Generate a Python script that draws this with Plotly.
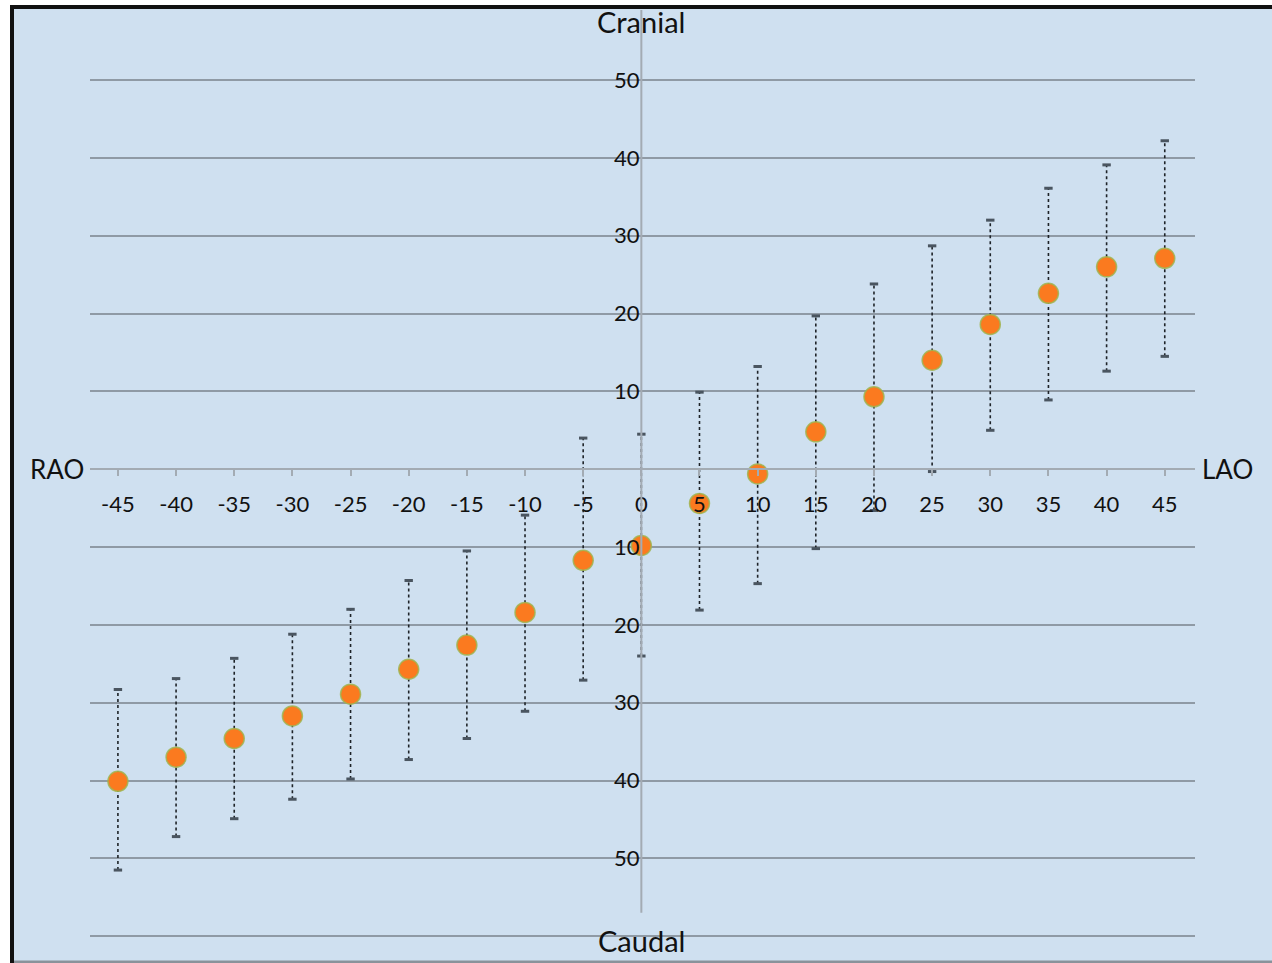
import plotly.graph_objects as go

# Data
angles = [-45, -40, -35, -30, -25, -20, -15, -10, -5, 0, 5, 10, 15, 20, 25, 30, 35, 40, 45]
means = [-40.1, -37.0, -34.6, -31.7, -28.9, -25.7, -22.6, -18.4, -11.7, -9.8, -4.4, -0.6, 4.8, 9.3, 14.0, 18.6, 22.6, 26.0, 27.1]
upper = [-28.3, -26.9, -24.3, -21.2, -18.0, -14.3, -10.5, -5.9, 4.0, 4.5, 9.9, 13.2, 19.7, 23.8, 28.7, 32.0, 36.1, 39.1, 42.2]
lower = [-51.5, -47.2, -44.9, -42.4, -39.8, -37.3, -34.6, -31.1, -27.1, -24.0, -18.1, -14.7, -10.2, -5.3, -0.3, 5.0, 8.9, 12.6, 14.5]

x_ticks = list(range(-45, 50, 5))
x_ticktext = [str(v) for v in x_ticks]
y_ticks = list(range(-60, 60, 10))
y_ticktext = ["" if v in (0, -60) else str(abs(v)) for v in y_ticks]

BG = "#cfe0f0"
FONT = "Lato"

# Pixel geometry of the plot area
W, H = 1272, 963
L, R = 90, 1195
T = 10
B = 943.6
x_range = [-47.4, 47.6]
y_range = [-61, 59]

def px_x(p):
    return (p - L) / (R - L)

def px_y(p):
    return (B - p) / (B - T)

# error bar line paths
ex, ey = [], []
for a, lo, hi in zip(angles, lower, upper):
    ex += [a, a, None]
    ey += [lo, hi, None]

fig = go.Figure()
fig.add_trace(go.Scatter(
    x=ex, y=ey, mode="lines",
    line=dict(color="#1e2328", width=1.6, dash="dot"),
    hoverinfo="skip", showlegend=False))
fig.add_trace(go.Scatter(
    x=angles + angles, y=upper + lower, mode="markers",
    marker=dict(symbol="line-ew", size=6, line=dict(color="#4a5560", width=3)),
    hoverinfo="skip", showlegend=False))
fig.add_trace(go.Scatter(
    x=angles, y=means, mode="markers",
    marker=dict(size=20, color="#fb7a1f", line=dict(color="rgba(160,180,80,0.85)", width=1.5)),
    showlegend=False))

zero_y = px_y(469)
zero_x = px_x(641.5)

fig.update_layout(
    width=W, height=H,
    margin=dict(l=L, r=W - R, t=T, b=H - B),
    paper_bgcolor=BG, plot_bgcolor=BG,
    font=dict(family=FONT, color="#111111"),
    xaxis=dict(range=x_range, tickvals=x_ticks, ticktext=x_ticktext, showgrid=False, zeroline=False,
               showline=True, linecolor="#a3abb3", linewidth=2,
               ticks="outside", ticklen=6, tickwidth=1.5, tickcolor="#a3abb3",
               anchor="free", position=zero_y, tickfont=dict(size=22, family=FONT, color="#111111"),
               ticklabelstandoff=9),
    yaxis=dict(range=y_range, tickvals=y_ticks, ticktext=y_ticktext, showgrid=True,
               gridcolor="#8f9aa5", gridwidth=1.5, zeroline=False, showline=False,
               ticks="", anchor="free", position=zero_x,
               tickfont=dict(size=22, family=FONT, color="#111111"), ticklabelstandoff=2),
    shapes=[
        dict(type="line", xref="x", yref="y", x0=0, x1=0, y0=-57, y1=59,
             line=dict(color="#a3abb3", width=2), layer="above"),
        # white outer strips and dark frame
        dict(type="rect", xref="paper", yref="paper", x0=px_x(0), x1=px_x(10), y0=px_y(H), y1=px_y(0),
             fillcolor="white", line=dict(width=0)),
        dict(type="rect", xref="paper", yref="paper", x0=px_x(0), x1=px_x(W), y0=px_y(5), y1=px_y(0),
             fillcolor="white", line=dict(width=0)),
        dict(type="rect", xref="paper", yref="paper", x0=px_x(10), x1=px_x(14), y0=px_y(H), y1=px_y(5),
             fillcolor="#111111", line=dict(width=0)),
        dict(type="rect", xref="paper", yref="paper", x0=px_x(10), x1=px_x(W), y0=px_y(9), y1=px_y(5),
             fillcolor="#111111", line=dict(width=0)),
        dict(type="rect", xref="paper", yref="paper", x0=px_x(14), x1=px_x(W), y0=px_y(H), y1=px_y(960),
             fillcolor="#8a929a", line=dict(width=0)),
    ],
    annotations=[
        dict(text="RAO", xref="paper", yref="y", x=px_x(57), y=0, showarrow=False,
             xanchor="center", yanchor="middle",
             font=dict(size=26, family=FONT, color="#111")),
        dict(text="LAO", xref="paper", yref="y", x=px_x(1228), y=0, showarrow=False,
             xanchor="center", yanchor="middle",
             font=dict(size=26, family=FONT, color="#111")),
        dict(text="Cranial", xref="x", yref="paper", x=0, y=px_y(21), showarrow=False,
             xanchor="center", yanchor="middle",
             font=dict(size=29, family=FONT, color="#111")),
        dict(text="Caudal", xref="x", yref="paper", x=0, y=px_y(940), showarrow=False,
             xanchor="center", yanchor="middle",
             font=dict(size=29, family=FONT, color="#111")),
    ],
)

fig.write_html("out.html", config={"displayModeBar": False},
               post_script="document.body.style.margin='0';document.body.style.overflow='hidden';")
